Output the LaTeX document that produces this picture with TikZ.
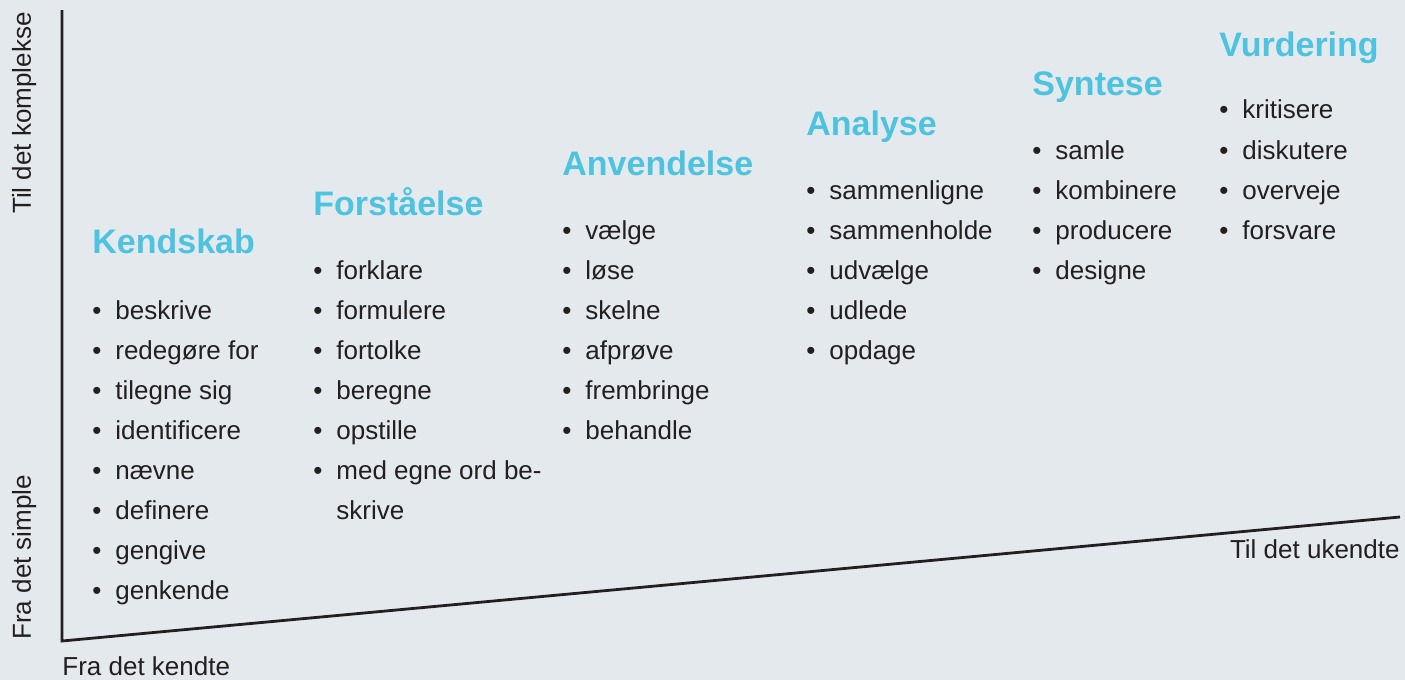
\documentclass[tikz,border=0pt]{standalone}
\usepackage{fontspec}
\setmainfont{Liberation Sans}
\definecolor{bg}{HTML}{E4E9EE}
\definecolor{hdcol}{HTML}{4EC3E0}
\definecolor{ink}{HTML}{231F20}
\newcommand{\blt}{\makebox[11.5pt][l]{\textbullet}}

\begin{document}
\begin{tikzpicture}[x=0.5pt,y=-0.5pt]
\tikzset{stage/.style={anchor=base west,inner sep=0pt,text=hdcol,font=\fontsize{17}{20}\selectfont\bfseries},
         verb/.style={anchor=base west,inner sep=0pt,text=ink,font=\fontsize{13}{16}\selectfont},
         axis label/.style={inner sep=0pt,text=ink,font=\fontsize{13}{16}\selectfont}}
\fill[bg] (0,0) rectangle (1405,680);
\useasboundingbox (0,0) rectangle (1405,680);

% axes
\coordinate (origo) at (62,641);
\coordinate (ytop) at (62,10);
\coordinate (xend) at (1400,517);
\draw[ink,line width=1.4pt] (ytop) -- (origo) -- (xend);
\node[axis label,anchor=base west] (kendte) at (62,675) {Fra det kendte};
\node[axis label,anchor=base east] (ukendte) at (1400,558) {Til det ukendte};
\node[axis label,anchor=base west,rotate=90] (simple) at (31,640) {Fra det simple};
\node[axis label,anchor=base east,rotate=90] (komplekse) at (31,12) {Til det komplekse};

% levels
\node[stage] (kendskab) at (92,253) {Kendskab};
\foreach \w [count=\i] in {beskrive,redegøre for,tilegne sig,identificere,nævne,definere,gengive,genkende}
    \node[verb] (kendskab-\i) at (92,{279+40*\i}) {\blt\w};

\node[stage] (forstaaelse) at (313,215) {Forståelse};
\foreach \w [count=\i] in {forklare,formulere,fortolke,beregne,opstille,med egne ord be-}
    \node[verb] (forstaaelse-\i) at (313,{239+40*\i}) {\blt\w};
\node[verb] (forstaaelse-7) at (313,519) {\hphantom{\blt}skrive};

\node[stage] (anvendelse) at (562,175) {Anvendelse};
\foreach \w [count=\i] in {vælge,løse,skelne,afprøve,frembringe,behandle}
    \node[verb] (anvendelse-\i) at (562,{199+40*\i}) {\blt\w};

\node[stage] (analyse) at (806,135) {Analyse};
\foreach \w [count=\i] in {sammenligne,sammenholde,udvælge,udlede,opdage}
    \node[verb] (analyse-\i) at (806,{159+40*\i}) {\blt\w};

\node[stage] (syntese) at (1032,95) {Syntese};
\foreach \w [count=\i] in {samle,kombinere,producere,designe}
    \node[verb] (syntese-\i) at (1032,{119+40*\i}) {\blt\w};

\node[stage] (vurdering) at (1219,56) {Vurdering};
\foreach \w [count=\i] in {kritisere,diskutere,overveje,forsvare}
    \node[verb] (vurdering-\i) at (1219,{79+40*\i}) {\blt\w};
\end{tikzpicture}
\end{document}
